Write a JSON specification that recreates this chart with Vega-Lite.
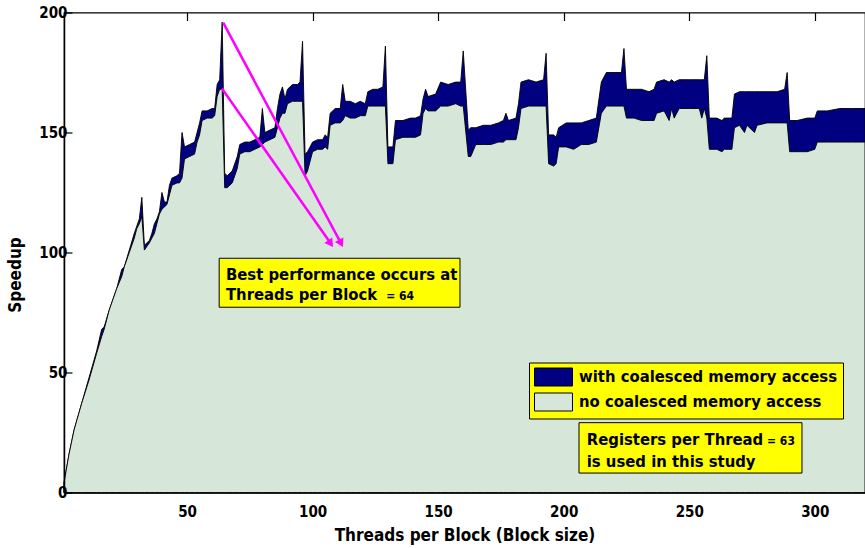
{
  "$schema": "https://vega.github.io/schema/vega-lite/v6.json",
  "width": 801,
  "height": 480,
  "autosize": {"type": "none"},
  "padding": {"left": 64, "top": 12.5, "right": 0, "bottom": 55.5},
  "background": "white",
  "config": {
    "view": {"stroke": "black", "strokeWidth": 1.2},
    "axis": {
      "grid": false,
      "labelFont": "DejaVu Sans Condensed, DejaVu Sans, sans-serif",
      "labelFontWeight": "bold",
      "labelFontSize": 15,
      "labelColor": "black",
      "titleFont": "DejaVu Sans Condensed, DejaVu Sans, sans-serif",
      "titleFontWeight": "bold",
      "titleColor": "black",
      "domainColor": "black",
      "domainWidth": 1.5,
      "tickColor": "black",
      "tickWidth": 1.2
    }
  },
  "datasets": {
    "speed": [
      {"t": 1, "w": 4, "n": 4},
      {"t": 3, "w": 16, "n": 16},
      {"t": 5, "w": 26, "n": 26},
      {"t": 8, "w": 37, "n": 37},
      {"t": 11, "w": 48, "n": 47},
      {"t": 14, "w": 59, "n": 58},
      {"t": 16, "w": 68, "n": 65},
      {"t": 17, "w": 69, "n": 68},
      {"t": 19, "w": 76, "n": 76},
      {"t": 22, "w": 85, "n": 85},
      {"t": 24, "w": 93, "n": 90},
      {"t": 25, "w": 94, "n": 94},
      {"t": 27, "w": 101, "n": 100},
      {"t": 29, "w": 108, "n": 106},
      {"t": 30, "w": 111, "n": 110},
      {"t": 31, "w": 114, "n": 112},
      {"t": 32, "w": 123, "n": 115},
      {"t": 33, "w": 103, "n": 101},
      {"t": 35, "w": 105, "n": 104},
      {"t": 36, "w": 108, "n": 106},
      {"t": 37, "w": 112, "n": 108},
      {"t": 38, "w": 114, "n": 112},
      {"t": 39, "w": 117, "n": 116},
      {"t": 40, "w": 125, "n": 118},
      {"t": 41, "w": 121, "n": 119},
      {"t": 42, "w": 121, "n": 120},
      {"t": 43, "w": 128, "n": 124},
      {"t": 44, "w": 131, "n": 128},
      {"t": 46, "w": 132, "n": 129},
      {"t": 47, "w": 133, "n": 129},
      {"t": 48, "w": 150, "n": 131},
      {"t": 49, "w": 144, "n": 139},
      {"t": 51, "w": 145, "n": 140},
      {"t": 53, "w": 146, "n": 141},
      {"t": 54, "w": 150, "n": 146},
      {"t": 55, "w": 154, "n": 149},
      {"t": 56, "w": 159, "n": 155},
      {"t": 58, "w": 159, "n": 156},
      {"t": 60, "w": 160, "n": 156},
      {"t": 61, "w": 160, "n": 157},
      {"t": 62, "w": 170, "n": 165},
      {"t": 63, "w": 172, "n": 168},
      {"t": 64, "w": 196, "n": 168},
      {"t": 65, "w": 133, "n": 127},
      {"t": 66, "w": 132, "n": 127},
      {"t": 68, "w": 134, "n": 129},
      {"t": 70, "w": 140, "n": 135},
      {"t": 71, "w": 145, "n": 141},
      {"t": 73, "w": 146, "n": 142},
      {"t": 75, "w": 146, "n": 142},
      {"t": 77, "w": 147, "n": 143},
      {"t": 79, "w": 148, "n": 144},
      {"t": 80, "w": 160, "n": 145},
      {"t": 81, "w": 150, "n": 146},
      {"t": 83, "w": 151, "n": 147},
      {"t": 85, "w": 152, "n": 148},
      {"t": 86, "w": 160, "n": 152},
      {"t": 87, "w": 166, "n": 156},
      {"t": 88, "w": 169, "n": 158},
      {"t": 89, "w": 164, "n": 158},
      {"t": 90, "w": 168, "n": 162},
      {"t": 92, "w": 170, "n": 163},
      {"t": 94, "w": 170, "n": 163},
      {"t": 95, "w": 171, "n": 163},
      {"t": 96, "w": 188, "n": 163},
      {"t": 97, "w": 141, "n": 132},
      {"t": 98, "w": 142, "n": 134},
      {"t": 100, "w": 146, "n": 142},
      {"t": 102, "w": 147, "n": 143},
      {"t": 104, "w": 147, "n": 143},
      {"t": 105, "w": 149, "n": 144},
      {"t": 106, "w": 148, "n": 143},
      {"t": 107, "w": 158, "n": 153},
      {"t": 109, "w": 160, "n": 154},
      {"t": 111, "w": 160, "n": 154},
      {"t": 112, "w": 170, "n": 155},
      {"t": 113, "w": 163, "n": 157},
      {"t": 115, "w": 163, "n": 156},
      {"t": 117, "w": 162, "n": 156},
      {"t": 119, "w": 163, "n": 157},
      {"t": 121, "w": 162, "n": 157},
      {"t": 122, "w": 167, "n": 161},
      {"t": 124, "w": 168, "n": 161},
      {"t": 126, "w": 168, "n": 161},
      {"t": 128, "w": 169, "n": 161},
      {"t": 129, "w": 186, "n": 161},
      {"t": 130, "w": 144, "n": 137},
      {"t": 132, "w": 144, "n": 137},
      {"t": 133, "w": 155, "n": 147},
      {"t": 136, "w": 155, "n": 148},
      {"t": 139, "w": 156, "n": 148},
      {"t": 141, "w": 156, "n": 148},
      {"t": 143, "w": 157, "n": 149},
      {"t": 144, "w": 164, "n": 158},
      {"t": 145, "w": 168, "n": 160},
      {"t": 146, "w": 165, "n": 159},
      {"t": 149, "w": 166, "n": 159},
      {"t": 151, "w": 171, "n": 161},
      {"t": 154, "w": 170, "n": 161},
      {"t": 157, "w": 171, "n": 162},
      {"t": 159, "w": 171, "n": 161},
      {"t": 160, "w": 184, "n": 161},
      {"t": 162, "w": 151, "n": 140},
      {"t": 163, "w": 152, "n": 140},
      {"t": 165, "w": 152, "n": 145},
      {"t": 168, "w": 153, "n": 145},
      {"t": 171, "w": 153, "n": 145},
      {"t": 174, "w": 154, "n": 146},
      {"t": 176, "w": 155, "n": 146},
      {"t": 177, "w": 158, "n": 147},
      {"t": 178, "w": 155, "n": 147},
      {"t": 181, "w": 156, "n": 147},
      {"t": 182, "w": 162, "n": 152},
      {"t": 183, "w": 171, "n": 160},
      {"t": 186, "w": 172, "n": 161},
      {"t": 189, "w": 171, "n": 161},
      {"t": 192, "w": 172, "n": 161},
      {"t": 193, "w": 183, "n": 161},
      {"t": 194, "w": 149, "n": 137},
      {"t": 196, "w": 149, "n": 136},
      {"t": 197, "w": 148, "n": 137},
      {"t": 198, "w": 152, "n": 144},
      {"t": 201, "w": 154, "n": 144},
      {"t": 204, "w": 154, "n": 143},
      {"t": 207, "w": 154, "n": 145},
      {"t": 210, "w": 155, "n": 145},
      {"t": 213, "w": 156, "n": 146},
      {"t": 215, "w": 171, "n": 158},
      {"t": 217, "w": 175, "n": 161},
      {"t": 220, "w": 175, "n": 161},
      {"t": 223, "w": 175, "n": 161},
      {"t": 224, "w": 185, "n": 161},
      {"t": 225, "w": 168, "n": 156},
      {"t": 228, "w": 168, "n": 156},
      {"t": 231, "w": 168, "n": 155},
      {"t": 234, "w": 167, "n": 155},
      {"t": 236, "w": 168, "n": 155},
      {"t": 237, "w": 171, "n": 158},
      {"t": 240, "w": 172, "n": 159},
      {"t": 242, "w": 171, "n": 155},
      {"t": 243, "w": 172, "n": 160},
      {"t": 244, "w": 171, "n": 156},
      {"t": 246, "w": 172, "n": 160},
      {"t": 250, "w": 172, "n": 160},
      {"t": 254, "w": 172, "n": 160},
      {"t": 255, "w": 172, "n": 156},
      {"t": 256, "w": 172, "n": 160},
      {"t": 257, "w": 182, "n": 156},
      {"t": 258, "w": 156, "n": 143},
      {"t": 261, "w": 156, "n": 143},
      {"t": 263, "w": 155, "n": 142},
      {"t": 264, "w": 156, "n": 143},
      {"t": 267, "w": 156, "n": 143},
      {"t": 268, "w": 166, "n": 152},
      {"t": 270, "w": 167, "n": 153},
      {"t": 272, "w": 167, "n": 150},
      {"t": 273, "w": 167, "n": 153},
      {"t": 276, "w": 167, "n": 150},
      {"t": 277, "w": 167, "n": 153},
      {"t": 281, "w": 167, "n": 154},
      {"t": 285, "w": 167, "n": 154},
      {"t": 288, "w": 168, "n": 154},
      {"t": 289, "w": 175, "n": 154},
      {"t": 290, "w": 155, "n": 142},
      {"t": 293, "w": 155, "n": 142},
      {"t": 297, "w": 156, "n": 142},
      {"t": 300, "w": 156, "n": 143},
      {"t": 301, "w": 159, "n": 146},
      {"t": 305, "w": 159, "n": 146},
      {"t": 310, "w": 160, "n": 146},
      {"t": 315, "w": 160, "n": 146},
      {"t": 320, "w": 160, "n": 146}
    ],
    "boxes": [
      {"x": 62.8, "x2": 158.7, "y": 97.6, "y2": 77.2},
      {"x": 206.1, "x2": 294.9, "y": 29.1, "y2": 8.1}
    ],
    "bigText": [
      {"x": 65.5, "y": 88.5, "label": "Best performance occurs at"},
      {"x": 65.5, "y": 80.2, "label": "Threads per Block"},
      {"x": 209.2, "y": 19.8, "label": "Registers per Thread"},
      {"x": 209.2, "y": 10.75, "label": "is used in this study"}
    ],
    "smallText": [
      {"x": 129.3, "y": 80.2, "label": "= 64"},
      {"x": 281, "y": 19.8, "label": "= 63"}
    ],
    "arrows": [
      {"x": 64.4, "y": 195.8, "x2": 111.6, "y2": 103.3},
      {"x": 63.9, "y": 168.3, "x2": 107.6, "y2": 103.2}
    ],
    "heads": [
      {"x": 111.35, "y": 103.8, "angle": 152},
      {"x": 107.2, "y": 103.7, "angle": 145}
    ]
  },
  "resolve": {"axis": {"x": "independent"}},
  "layer": [
    {
      "data": {"name": "speed"},
      "mark": {"type": "area", "stroke": "black", "strokeWidth": 0.9, "interpolate": "linear"},
      "encoding": {
        "x": {"field": "t", "type": "quantitative", "scale": {"domain": [1, 320], "nice": false, "zero": false},
              "axis": {"title": "Threads per Block (Block size)", "values": [50, 100, 150, 200, 250, 300], "ticks": false, "labelPadding": 12, "titleFontSize": 17, "titleY": 43, "titleBaseline": "middle", "labelFlush": false}},
        "y": {"field": "w", "type": "quantitative", "scale": {"domain": [0, 200], "nice": false},
              "axis": {"title": "Speedup", "values": [0, 50, 100, 150, 200], "tickSize": -8, "zindex": 1, "labelPadding": 5, "titleFontSize": 17, "titleX": -49, "titleY": 262, "titleAngle": -90, "titleBaseline": "middle", "titleAlign": "center", "labelFlush": false}},
        "color": {"datum": "with coalesced memory access", "type": "nominal",
          "scale": {"domain": ["with coalesced memory access", "no coalesced memory access"], "range": ["#000080", "#d6e7da"]},
          "legend": {"orient": "none", "legendX": 465, "legendY": 350, "title": null, "fillColor": "#ffff00", "strokeColor": "black", "padding": 5,
                     "symbolType": "M-1,-1H3.222V1H-1Z", "symbolSize": 324, "symbolStrokeColor": "black", "symbolStrokeWidth": 1, "symbolOpacity": 1,
                     "labelFont": "DejaVu Sans Condensed, DejaVu Sans, sans-serif", "labelFontWeight": "bold", "labelFontSize": 16.5, "labelColor": "black", "labelLimit": 400, "rowPadding": 2, "labelOffset": 26}}
      }
    },
    {
      "data": {"name": "speed"},
      "mark": {"type": "area", "stroke": "black", "strokeWidth": 0.9, "interpolate": "linear"},
      "encoding": {
        "x": {"field": "t", "type": "quantitative", "axis": {"orient": "top", "labels": false, "title": null, "domain": false, "tickSize": -8, "zindex": 1, "values": [50, 100, 150, 200, 250, 300]}},
        "y": {"field": "n", "type": "quantitative", "title": "Speedup"},
        "color": {"datum": "no coalesced memory access", "type": "nominal"}
      }
    },
    {
      "data": {"name": "arrows"},
      "mark": {"type": "rule", "color": "#ff00ff", "strokeWidth": 2.5},
      "encoding": {
        "x": {"field": "x", "type": "quantitative", "axis": null},
        "y": {"field": "y", "type": "quantitative", "title": "Speedup"},
        "x2": {"field": "x2"},
        "y2": {"field": "y2"}
      }
    },
    {
      "data": {"name": "heads"},
      "mark": {"type": "point", "shape": "triangle-up", "filled": true, "color": "#ff00ff", "size": 90, "opacity": 1},
      "encoding": {
        "x": {"field": "x", "type": "quantitative", "axis": null},
        "y": {"field": "y", "type": "quantitative", "title": "Speedup"},
        "angle": {"field": "angle", "type": "quantitative", "scale": null}
      }
    },
    {
      "data": {"name": "boxes"},
      "mark": {"type": "rect", "fill": "#ffff00", "stroke": "black", "strokeWidth": 1},
      "encoding": {
        "x": {"field": "x", "type": "quantitative", "axis": null},
        "x2": {"field": "x2"},
        "y": {"field": "y", "type": "quantitative", "title": "Speedup"},
        "y2": {"field": "y2"}
      }
    },
    {
      "data": {"name": "bigText"},
      "mark": {"type": "text", "align": "left", "baseline": "alphabetic", "font": "DejaVu Sans Condensed, DejaVu Sans, sans-serif", "fontWeight": "bold", "fontSize": 16.5, "color": "black"},
      "encoding": {
        "x": {"field": "x", "type": "quantitative", "axis": null},
        "y": {"field": "y", "type": "quantitative", "title": "Speedup"},
        "text": {"field": "label"}
      }
    },
    {
      "data": {"name": "smallText"},
      "mark": {"type": "text", "align": "left", "baseline": "alphabetic", "font": "DejaVu Sans Condensed, DejaVu Sans, sans-serif", "fontWeight": "bold", "fontSize": 12, "color": "black"},
      "encoding": {
        "x": {"field": "x", "type": "quantitative", "axis": null},
        "y": {"field": "y", "type": "quantitative", "title": "Speedup"},
        "text": {"field": "label"}
      }
    }
  ]
}
